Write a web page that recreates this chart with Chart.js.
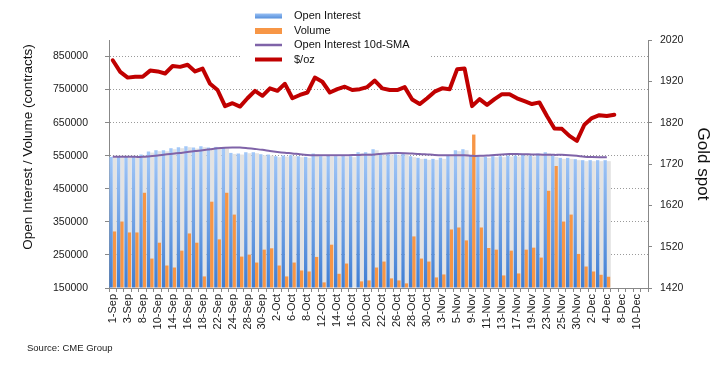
<!DOCTYPE html>
<html>
<head>
<meta charset="utf-8">
<script src="https://cdn.jsdelivr.net/npm/chart.js@4.4.0/dist/chart.umd.min.js"></script>
<style>
  body { margin: 0; background: #fff; }
  #wrap { position: relative; width: 725px; height: 371px; }
  #source { position: absolute; left: 27px; top: 342px; font: 9.5px "Liberation Sans", Arial, sans-serif; color: #222; }
</style>
</head>
<body>
<div id="wrap">
  <canvas id="goldChart" width="725" height="371"></canvas>
  <div id="source">Source: CME Group</div>
</div>
<script>
// trading days, Sep - Dec
const dates = [
  '1-Sep','2-Sep','3-Sep','4-Sep','8-Sep','9-Sep','10-Sep','11-Sep','14-Sep','15-Sep','16-Sep','17-Sep','18-Sep',
  '21-Sep','22-Sep','23-Sep','24-Sep','25-Sep','28-Sep','29-Sep','30-Sep',
  '1-Oct','2-Oct','5-Oct','6-Oct','7-Oct','8-Oct','9-Oct','12-Oct','13-Oct','14-Oct','15-Oct','16-Oct',
  '19-Oct','20-Oct','21-Oct','22-Oct','23-Oct','26-Oct','27-Oct','28-Oct','29-Oct','30-Oct',
  '2-Nov','3-Nov','4-Nov','5-Nov','6-Nov','9-Nov','10-Nov','11-Nov','12-Nov','13-Nov',
  '16-Nov','17-Nov','18-Nov','19-Nov','20-Nov','23-Nov','24-Nov','25-Nov','27-Nov','30-Nov',
  '1-Dec','2-Dec','3-Dec','4-Dec','7-Dec','8-Dec','9-Dec','10-Dec','11-Dec'
];

const openInterest = [
  546600, 546600, 546600, 546600, 553600, 562600, 566700, 566700, 572700, 575700, 578700, 574700,
  578700, 574700, 576700, 574700, 558600, 556600, 560600, 560600, 554600, 553600, 548600, 550600,
  551600, 548600, 546600, 556600, 548600, 549600, 548600, 548600, 548600, 560600, 560600, 569700,
  554600, 554600, 554600, 556600, 548600, 543600, 540600, 540600, 543600, 551600, 566700, 569700,
  550600, 548600, 546600, 548600, 548600, 550600, 550600, 553600, 550600, 556600, 560600, 549600,
  543600, 543600, 539600, 536600, 536600, 536600, 536600
];

const volume = [
  321000, 351000, 318000, 318000, 438000, 239000, 287000, 218000, 212000, 263000, 315000, 287000,
  185000, 411000, 297000, 438000, 372000, 245000, 251000, 227000, 266000, 270000, 218000, 185000,
  227000, 203000, 200000, 244000, 167000, 281000, 193000, 224000, 150000, 170000, 173000, 212000,
  230000, 179000, 173000, 164000, 306000, 239000, 230000, 182000, 191000, 327000, 333000, 294000,
  614000, 333000, 271000, 266000, 188000, 263000, 194000, 266000, 272000, 242000, 444000, 519000,
  351000, 372000, 253000, 215000, 200000, 190000, 184000
];

const oiSma = [
  546600, 546600, 546600, 546600, 546600, 548500, 550500, 553500, 556000, 558500, 561000, 564000,
  566500, 569500, 572500, 574200, 574700, 574700, 572800, 570500, 568000, 564500, 561500, 559000,
  557000, 554500, 552500, 551600, 551600, 551600, 551600, 551600, 552000, 552500, 553000, 554000,
  556000, 557500, 558000, 557500, 556500, 555500, 554000, 552500, 551600, 551600, 551600, 551600,
  549600, 549600, 550500, 552500, 554000, 555000, 555000, 554500, 554000, 553500, 553000, 552600,
  552600, 551500, 549600, 547000, 546000, 545600, 545600
];

const goldSpot = [
  1971, 1943, 1929, 1931, 1931, 1946, 1944, 1939, 1957, 1955, 1960, 1944,
  1951, 1914, 1899, 1860, 1867, 1859, 1879, 1897, 1885, 1903, 1897, 1914,
  1879, 1887, 1893, 1929, 1919, 1893, 1901, 1907, 1899, 1901, 1906, 1922,
  1903, 1899, 1899, 1906, 1876, 1865, 1879, 1895, 1903, 1901, 1949, 1951,
  1860, 1877, 1863, 1877, 1889, 1889, 1879, 1872, 1865, 1869, 1836, 1806,
  1805, 1788, 1776, 1815, 1831, 1838, 1836, 1839
];

const leftTicks = [150000, 250000, 350000, 450000, 550000, 650000, 750000, 850000];
const rightTicks = [1420, 1520, 1620, 1720, 1820, 1920, 2020];

const FONT = '"Liberation Sans", Arial, sans-serif';
Chart.defaults.font.family = FONT;
Chart.defaults.color = '#1a1a1a';

function oiGradient(context) {
  const chart = context.chart;
  const area = chart.chartArea;
  if (!area) return '#7aaaf0';
  const top = chart.scales.y.getPixelForValue(560000);
  const g = chart.ctx.createLinearGradient(0, area.bottom, 0, top);
  g.addColorStop(0, '#3f7dd2');
  g.addColorStop(1, '#a3c8f8');
  return g;
}

// light grey drop shadow to the right of each open interest bar
const barShadow = {
  id: 'barShadow',
  beforeDatasetsDraw(chart) {
    const ctx = chart.ctx;
    const area = chart.chartArea;
    const meta = chart.getDatasetMeta(0);
    ctx.save();
    ctx.beginPath();
    ctx.rect(area.left, area.top, area.right - area.left, area.bottom - area.top);
    ctx.clip();
    ctx.fillStyle = '#e3e3e3';
    meta.data.forEach(bar => {
      const p = bar.getProps(['x', 'y', 'base', 'width'], true);
      ctx.fillRect(p.x + p.width / 2, p.y + 1, p.width + 0.6, p.base - p.y - 1);
    });
    ctx.restore();
  }
};

const overlay = {
  id: 'overlay',
  afterDraw(chart) {
    const ctx = chart.ctx;
    ctx.save();
    // legend
    ctx.fillStyle = '#fff';
    ctx.fillRect(240, 4, 190, 64);
    const sx = 255, sw = 27, tx = 294;
    const g = ctx.createLinearGradient(0, 13, 0, 19);
    g.addColorStop(0, '#9ec4f6');
    g.addColorStop(1, '#4f8ad8');
    ctx.fillStyle = g;
    ctx.fillRect(sx, 13.5, sw, 5);
    ctx.fillStyle = '#f79646';
    ctx.fillRect(sx, 28, sw, 6);
    ctx.lineCap = 'butt';
    ctx.strokeStyle = '#7f63a8';
    ctx.lineWidth = 2.5;
    ctx.beginPath(); ctx.moveTo(sx, 45); ctx.lineTo(sx + sw, 45); ctx.stroke();
    ctx.strokeStyle = '#c00000';
    ctx.lineWidth = 4;
    ctx.beginPath(); ctx.moveTo(sx, 59.5); ctx.lineTo(sx + sw, 59.5); ctx.stroke();
    ctx.fillStyle = '#111';
    ctx.font = '11px ' + FONT;
    ctx.textBaseline = 'middle';
    ctx.textAlign = 'left';
    ctx.fillText('Open Interest', tx, 16);
    ctx.fillText('Volume', tx, 30.5);
    ctx.fillText('Open Interest 10d-SMA', tx, 45);
    ctx.fillText('$/oz', tx, 59.5);
    // left axis title
    ctx.translate(28, chart.chartArea.top + 107);
    ctx.rotate(-Math.PI / 2);
    ctx.textAlign = 'center';
    ctx.font = '13.5px ' + FONT;
    ctx.fillText('Open Interest / Volume (contracts)', 0, 0);
    ctx.restore();
  }
};

new Chart(document.getElementById('goldChart'), {
  type: 'bar',
  data: {
    labels: dates,
    datasets: [
      {
        label: 'Open Interest',
        data: openInterest,
        backgroundColor: oiGradient,
        base: 150000,
        yAxisID: 'y',
        order: 2,
        categoryPercentage: 0.9,
        barPercentage: 1.0
      },
      {
        label: 'Volume',
        data: volume,
        backgroundColor: '#f79646',
        base: 150000,
        yAxisID: 'y',
        order: 2,
        categoryPercentage: 0.9,
        barPercentage: 1.0
      },
      {
        type: 'line',
        label: 'Open Interest 10d-SMA',
        data: oiSma,
        borderColor: '#7f63a8',
        borderWidth: 2,
        pointRadius: 0,
        tension: 0.3,
        yAxisID: 'y',
        order: 1
      },
      {
        type: 'line',
        label: '$/oz',
        data: goldSpot,
        borderColor: '#c00000',
        borderWidth: 4,
        pointRadius: 0,
        tension: 0,
        borderJoinStyle: 'round',
        borderCapStyle: 'round',
        yAxisID: 'y1',
        order: 0
      }
    ]
  },
  options: {
    responsive: false,
    animation: false,
    layout: { padding: { top: 40, left: 0, right: 0, bottom: 0 } },
    plugins: {
      legend: { display: false },
      tooltip: { enabled: false }
    },
    scales: {
      x: {
        offset: true,
        grid: { display: true, drawOnChartArea: false, offset: true, tickLength: 4, color: '#888' },
        border: { color: '#888' },
        ticks: {
          autoSkip: false,
          minRotation: 90,
          maxRotation: 90,
          padding: 2,
          font: { size: 11 },
          callback: function (v, i) { return i % 2 === 0 ? this.getLabelForValue(v) : ''; }
        },
        afterFit: s => { s.height = 83; }
      },
      y: {
        position: 'left',
        beginAtZero: false,
        min: 150000,
        max: 900000,
        afterBuildTicks: s => { s.ticks = leftTicks.map(v => ({ value: v })); },
        afterFit: s => { s.width = 109; },
        grid: { color: '#9a9a9a', tickLength: 4, tickColor: '#888' },
        border: { color: '#888', dash: [1, 2] },
        ticks: { padding: 17, font: { size: 10.5 }, callback: v => String(v) }
      },
      y1: {
        position: 'right',
        beginAtZero: false,
        min: 1420,
        max: 2020,
        afterBuildTicks: s => { s.ticks = rightTicks.map(v => ({ value: v })); },
        afterFit: s => { s.width = 77; },
        grid: { drawOnChartArea: false, tickLength: 4, color: '#888' },
        border: { color: '#888' },
        ticks: { padding: 8, font: { size: 10.5 }, callback: v => String(v) },
        title: { display: true, text: 'Gold spot', font: { size: 17 }, padding: { top: 12, bottom: 0 }, color: '#111' }
      }
    }
  },
  plugins: [barShadow, overlay]
});
</script>
</body>
</html>
